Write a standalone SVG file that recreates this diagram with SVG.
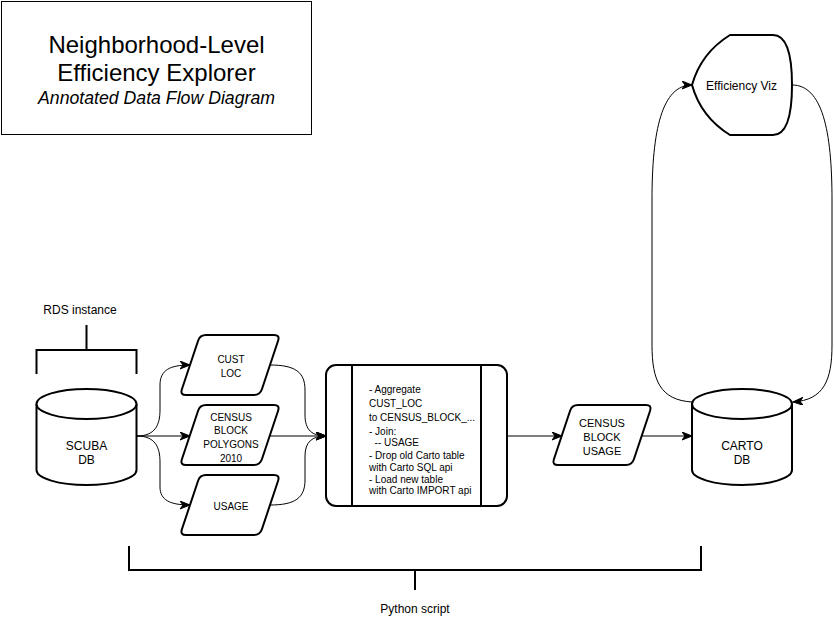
<svg xmlns="http://www.w3.org/2000/svg" xmlns:xlink="http://www.w3.org/1999/xlink" width="834" height="617" viewBox="0 0 834 617">
<style>
  text { font-family: "Liberation Sans", Arial, Helvetica, sans-serif; fill: #000; }
  .shape { fill: #fff; stroke: #000; stroke-width: 2; }
  .bracket { fill: none; stroke: #000; stroke-width: 2; }
  .edge { fill: none; stroke: #000; stroke-width: 1; }
  .t10 { font-size: 10px; }
  .t11 { font-size: 11px; }
  .t12 { font-size: 12px; }
  .c { text-anchor: middle; }
</style>
<defs>
  <marker id="arrow" markerUnits="userSpaceOnUse" markerWidth="12" markerHeight="10" refX="10" refY="4" orient="auto">
    <path d="M0,0 L10,4 L0,8 L3,4 Z" fill="#000" stroke="#000" stroke-width="1"/>
  </marker>
  <path id="para" d="M26,0 L94,0 Q100,0 98.1,5.7 L81.9,54.3 Q80,60 74,60 L6,60 Q0,60 1.9,54.3 L18.1,5.7 Q20,0 26,0 Z"/>
</defs>
<rect width="834" height="617" fill="#fff"/>

<g id="title">
  <rect x="1.5" y="1.5" width="310" height="133" fill="#fff" stroke="#000" stroke-width="1"/>
  <text x="156.5" y="53" class="c" font-size="24">Neighborhood-Level</text>
  <text x="156.5" y="81" class="c" font-size="24">Efficiency Explorer</text>
  <text x="156.5" y="104" class="c" font-size="17.7" font-style="italic">Annotated Data Flow Diagram</text>
</g>

<g id="rds-instance">
  <path class="bracket" d="M86.5,325 V350 M36.5,374 V350 H136.5 V374"/>
  <text x="80" y="314" class="c t12">RDS instance</text>
</g>

<g id="python-script">
  <path class="bracket" d="M129,546 V570 H701 V546 M415,570 V590"/>
  <text x="415" y="613" class="c t12">Python script</text>
</g>

<g id="connectors">
  <path class="edge" marker-end="url(#arrow)" d="M137,436 C155,436 160,425 160,410 L160,385 C160,370 170,365 190,365"/>
  <path class="edge" marker-end="url(#arrow)" d="M137,436 L190,436"/>
  <path class="edge" marker-end="url(#arrow)" d="M137,436 C155,436 160,447 160,462 L160,487 C160,500 170,505 190,505"/>
  <path class="edge" marker-end="url(#arrow)" d="M270,365 C295,365 305,372 305,390 L305,415 C305,430 312,436 326,436"/>
  <path class="edge" marker-end="url(#arrow)" d="M270,436 L326,436"/>
  <path class="edge" marker-end="url(#arrow)" d="M270,505 C295,505 305,498 305,480 L305,456 C305,442 312,436 326,436"/>
  <path class="edge" marker-end="url(#arrow)" d="M507,436 L562,436"/>
  <path class="edge" marker-end="url(#arrow)" d="M642,436 L692,436"/>
  <path class="edge" marker-end="url(#arrow)" d="M692,402 C660,400 652,380 652,345 L652,200 C652,130 662,85 692,85"/>
  <path class="edge" marker-end="url(#arrow)" d="M792,85 C822,85 832,130 832,200 L832,345 C832,380 824,400 793,402"/>
</g>

<g id="scuba-db" transform="translate(36.5,389)">
  <path class="shape" d="M0,15 A50,15 0 0 1 100,15 V81 A50,15 0 0 1 0,81 Z"/>
  <path class="shape" fill="none" d="M0,15 A50,15 0 0 0 100,15"/>
  <text x="50" y="61" class="c t12">SCUBA</text>
  <text x="50" y="75" class="c t12">DB</text>
</g>

<g id="cust-loc">
  <use xlink:href="#para" href="#para" x="180" y="335" class="shape"/>
  <text x="231" y="363" class="c t10">CUST</text>
  <text x="231" y="377" class="c t10">LOC</text>
</g>

<g id="census-block-polygons">
  <use xlink:href="#para" href="#para" x="180" y="405" class="shape"/>
  <text x="231" y="420.5" class="c t10">CENSUS</text>
  <text x="231" y="434" class="c t10">BLOCK</text>
  <text x="231" y="447.5" class="c t10">POLYGONS</text>
  <text x="231" y="461.5" class="c t10">2010</text>
</g>

<g id="usage">
  <use xlink:href="#para" href="#para" x="180" y="475" class="shape"/>
  <text x="231" y="510" class="c t10">USAGE</text>
</g>

<g id="process">
  <rect x="326" y="365" width="181" height="141" rx="10" ry="10" class="shape"/>
  <path d="M352,365 V506 M481,365 V506" stroke="#000" stroke-width="2"/>
  <text x="369" y="393" class="t10">- Aggregate</text>
  <text x="369" y="407" class="t10">CUST_LOC</text>
  <text x="369" y="421" class="t10">to CENSUS_BLOCK_...</text>
  <text x="369" y="434.5" class="t10">- Join:</text>
  <text x="369" y="446" class="t10" xml:space="preserve">  -- USAGE</text>
  <text x="369" y="458.5" class="t10">- Drop old Carto table</text>
  <text x="369" y="470.5" class="t10">with Carto SQL api</text>
  <text x="369" y="482.5" class="t10">- Load new table</text>
  <text x="369" y="494" class="t10">with Carto IMPORT api</text>
</g>

<g id="census-block-usage">
  <use xlink:href="#para" href="#para" x="552" y="405" class="shape"/>
  <text x="602" y="427" class="c t11">CENSUS</text>
  <text x="602" y="441" class="c t11">BLOCK</text>
  <text x="602" y="455" class="c t11">USAGE</text>
</g>

<g id="carto-db" transform="translate(692,389)">
  <path class="shape" d="M0,15 A50,15 0 0 1 100,15 V81 A50,15 0 0 1 0,81 Z"/>
  <path class="shape" fill="none" d="M0,15 A50,15 0 0 0 100,15"/>
  <text x="50" y="61" class="c t12">CARTO</text>
  <text x="50" y="75" class="c t12">DB</text>
</g>

<g id="efficiency-viz">
  <path class="shape" d="M692,85 Q701,53 730,35 L773,35 Q792,35 792,85 Q792,135 773,135 L730,135 Q701,117 692,85 Z"/>
  <text x="741.5" y="89.5" class="c t12">Efficiency Viz</text>
</g>
</svg>
